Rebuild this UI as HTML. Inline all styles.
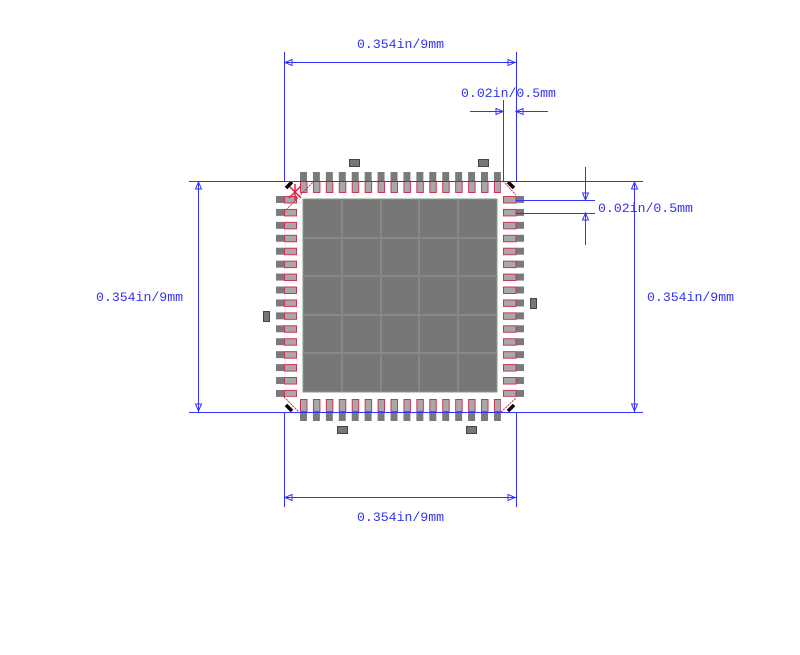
<!DOCTYPE html>
<html><head><style>body{margin:0;background:#fff}svg{display:block}text{font-family:"Liberation Mono",monospace;font-size:13.2px;fill:#3333ee}</style></head><body>
<svg width="800" height="655" viewBox="0 0 800 655" xmlns="http://www.w3.org/2000/svg">
<defs>
<pattern id="pt" x="300" y="172" width="12.93" height="21" patternUnits="userSpaceOnUse">
<rect x="0" y="0" width="7" height="21" fill="#7a7a7a"/><rect x="0.5" y="9.5" width="6.5" height="11" fill="#a8a8a8" stroke="#cc3355" stroke-width="1"/></pattern>
<pattern id="pb" x="300" y="399" width="12.93" height="22" patternUnits="userSpaceOnUse">
<rect x="0" y="0" width="7" height="22" fill="#7a7a7a"/><rect x="0.5" y="0.5" width="6.5" height="12" fill="#a8a8a8" stroke="#cc3355" stroke-width="1"/></pattern>
<pattern id="pl" x="276" y="196" width="21" height="12.93" patternUnits="userSpaceOnUse">
<rect x="0" y="0" width="21" height="7" fill="#7a7a7a"/><rect x="8.5" y="0.5" width="12" height="6.5" fill="#a8a8a8" stroke="#cc3355" stroke-width="1"/></pattern>
<pattern id="pr" x="503" y="196" width="21" height="12.93" patternUnits="userSpaceOnUse">
<rect x="0" y="0" width="21" height="7" fill="#7a7a7a"/><rect x="0.5" y="0.5" width="12.5" height="6.5" fill="#a8a8a8" stroke="#cc3355" stroke-width="1"/></pattern>
</defs>
<rect x="300" y="172" width="201" height="21" fill="url(#pt)"/>
<rect x="300" y="399" width="201" height="22" fill="url(#pb)"/>
<rect x="276" y="196" width="21" height="201" fill="url(#pl)"/>
<rect x="503" y="196" width="21" height="201" fill="url(#pr)"/>
<rect x="303" y="199" width="194" height="193" fill="#777" stroke="#8a9a8a" stroke-width="1"/>
<g stroke="#888" stroke-width="2">
<line x1="342" y1="200" x2="342" y2="391"/><line x1="381" y1="200" x2="381" y2="391"/><line x1="419" y1="200" x2="419" y2="391"/><line x1="458" y1="200" x2="458" y2="391"/>
<line x1="304" y1="238" x2="496" y2="238"/><line x1="304" y1="276" x2="496" y2="276"/><line x1="304" y1="315" x2="496" y2="315"/><line x1="304" y1="353" x2="496" y2="353"/>
</g>
<g fill="#777" stroke="#444" stroke-width="1">
<rect x="349.5" y="159.5" width="10" height="7"/><rect x="478.5" y="159.5" width="10" height="7"/>
<rect x="337.5" y="426.5" width="10" height="7"/><rect x="466.5" y="426.5" width="10" height="7"/>
<rect x="263.5" y="311.5" width="6" height="10"/><rect x="530.5" y="298.5" width="6" height="10"/>
</g>
<g stroke="#dd2244" stroke-width="1" stroke-dasharray="2,1" fill="none">
<line x1="284" y1="212" x2="314" y2="181"/><line x1="503" y1="181" x2="516" y2="195"/>
<line x1="284" y1="397" x2="299" y2="412"/><line x1="501" y1="412" x2="516" y2="398"/>
</g>
<g stroke="#dd2244" stroke-width="1.5"><line x1="289" y1="186" x2="301" y2="198"/><line x1="301" y1="186" x2="289" y2="198"/><line x1="295" y1="184" x2="295" y2="200"/></g>
<g stroke="#000" stroke-width="3.5"><line x1="286" y1="188" x2="292" y2="182"/><line x1="508" y1="182" x2="514" y2="188"/><line x1="286" y1="405" x2="292" y2="411"/><line x1="508" y1="411" x2="514" y2="405"/></g>
<g stroke="#3333ff" stroke-width="1" fill="none">
<line x1="284.5" y1="52" x2="284.5" y2="181"/><line x1="516.5" y1="52" x2="516.5" y2="181"/>
<line x1="284.5" y1="412" x2="284.5" y2="507"/><line x1="516.5" y1="412" x2="516.5" y2="507"/>
<line x1="189" y1="181.5" x2="643" y2="181.5"/><line x1="189" y1="412.5" x2="643" y2="412.5"/>
<line x1="284" y1="62.5" x2="516" y2="62.5"/><line x1="284" y1="497.5" x2="516" y2="497.5"/>
<line x1="198.5" y1="181" x2="198.5" y2="412"/><line x1="634.5" y1="181" x2="634.5" y2="412"/>
<line x1="503.5" y1="100" x2="503.5" y2="181"/>
<line x1="470" y1="111.5" x2="503" y2="111.5"/><line x1="516" y1="111.5" x2="548" y2="111.5"/>
<line x1="516" y1="200.5" x2="595" y2="200.5"/><line x1="516" y1="213.5" x2="595" y2="213.5"/>
<line x1="585.5" y1="167" x2="585.5" y2="200"/><line x1="585.5" y1="213" x2="585.5" y2="245"/>
<path d="M292 59.5L285 62.5L292 65.5Z M508 59.5L515 62.5L508 65.5Z M292 494.5L285 497.5L292 500.5Z M508 494.5L515 497.5L508 500.5Z"/>
<path d="M195.5 189L198.5 182L201.5 189Z M195.5 404L198.5 411L201.5 404Z M631.5 189L634.5 182L637.5 189Z M631.5 404L634.5 411L637.5 404Z"/>
<path d="M496 108.5L503 111.5L496 114.5Z M523 108.5L516 111.5L523 114.5Z M582.5 193L585.5 200L588.5 193Z M582.5 220L585.5 213L588.5 220Z"/>
</g>
<text x="357" y="48">0.354in/9mm</text>
<text x="461" y="97">0.02in/0.5mm</text>
<text x="598" y="212">0.02in/0.5mm</text>
<text x="96" y="301">0.354in/9mm</text>
<text x="647" y="301">0.354in/9mm</text>
<text x="357" y="521">0.354in/9mm</text>
</svg>
</body></html>
